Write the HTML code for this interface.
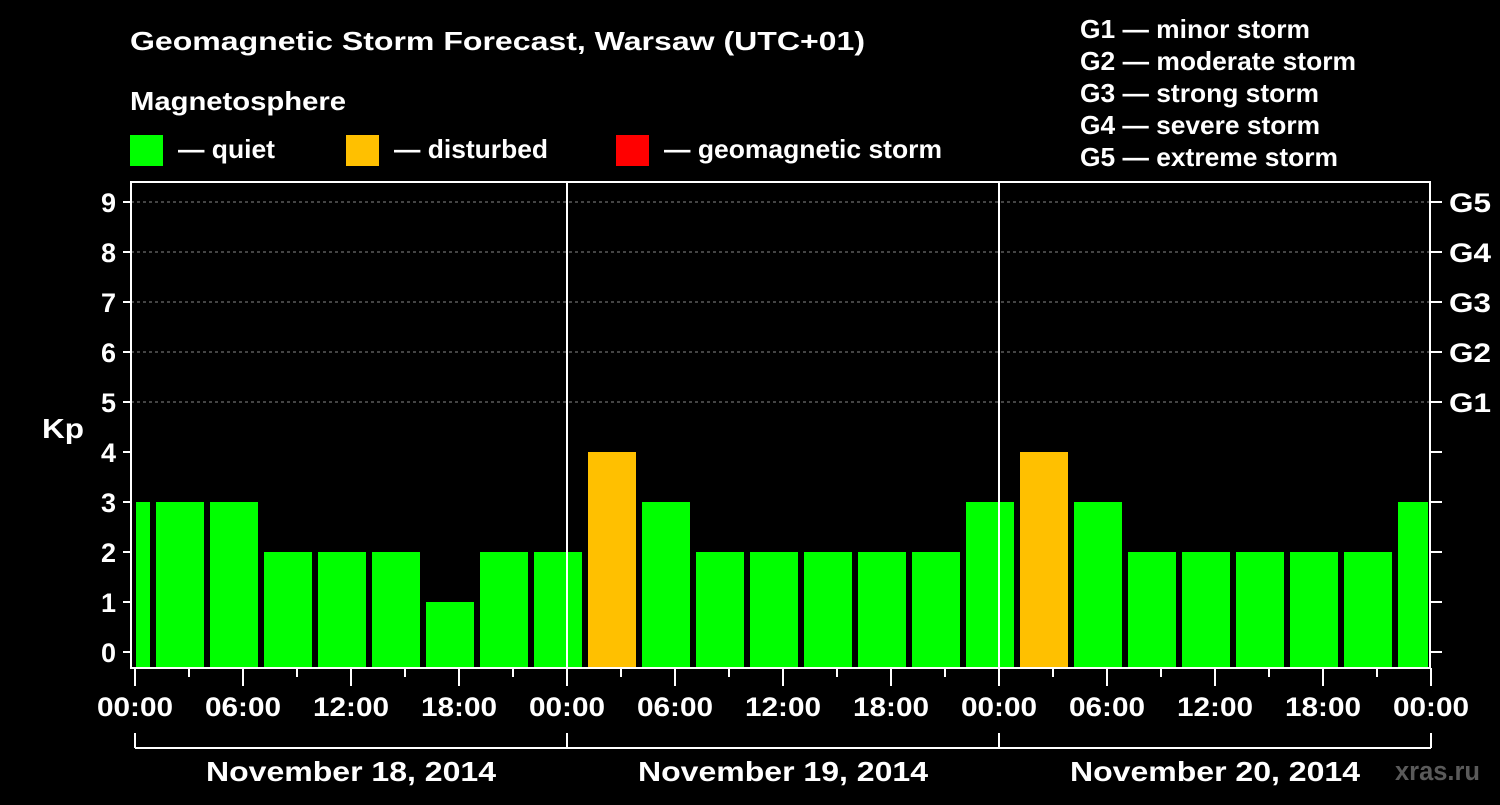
<!DOCTYPE html>
<html><head><meta charset="utf-8"><style>
body{margin:0;background:#000;width:1500px;height:800px;overflow:hidden}
text{font-family:"Liberation Sans",Arial,sans-serif;font-weight:bold;fill:#fff}
</style></head><body>
<svg id="chart" width="1500" height="800" xmlns="http://www.w3.org/2000/svg">
<rect width="1500" height="800" fill="#000"/>
<text x="130" y="50" font-size="26" textLength="735" lengthAdjust="spacingAndGlyphs">Geomagnetic Storm Forecast, Warsaw (UTC+01)</text>
<text x="130" y="110" font-size="26" textLength="216" lengthAdjust="spacingAndGlyphs">Magnetosphere</text>
<g><rect x="130" y="135" width="33" height="31" fill="#00ff00"/><text x="178" y="158" font-size="26" textLength="97" lengthAdjust="spacingAndGlyphs">— quiet</text></g>
<g><rect x="346" y="135" width="33" height="31" fill="#ffc000"/><text x="394" y="158" font-size="26" textLength="154" lengthAdjust="spacingAndGlyphs">— disturbed</text></g>
<g><rect x="616" y="135" width="33" height="31" fill="#ff0000"/><text x="664" y="158" font-size="26" textLength="278" lengthAdjust="spacingAndGlyphs">— geomagnetic storm</text></g>
<g font-size="26">
<text x="1080" y="38" textLength="230" lengthAdjust="spacingAndGlyphs">G1 — minor storm</text>
<text x="1080" y="70" textLength="276" lengthAdjust="spacingAndGlyphs">G2 — moderate storm</text>
<text x="1080" y="102" textLength="239" lengthAdjust="spacingAndGlyphs">G3 — strong storm</text>
<text x="1080" y="134" textLength="240" lengthAdjust="spacingAndGlyphs">G4 — severe storm</text>
<text x="1080" y="166" textLength="258" lengthAdjust="spacingAndGlyphs">G5 — extreme storm</text>
</g>
<g id="gridG"></g><g id="barsG"></g><g id="axesG"></g>
<text x="42" y="438" font-size="28" textLength="42" lengthAdjust="spacingAndGlyphs">Kp</text>
<text x="1395" y="780" font-size="27" style="fill:#5a5a5a" textLength="85" lengthAdjust="spacingAndGlyphs">xras.ru</text>
</svg>
<script>
const kpValues=[3,3,3,2,2,2,1,2,2,4,3,2,2,2,2,2,3,4,3,2,2,2,2,2,3];
const statusColors={quiet:"#00ff00",disturbed:"#ffc000",storm:"#ff0000"};
const dayLabels=["November 18, 2014","November 19, 2014","November 20, 2014"];
const hourLabels=["00:00","06:00","12:00","18:00"];
const gLabels=["G1","G2","G3","G4","G5"];
(function(){
const NS="http://www.w3.org/2000/svg";
const x0=135,pxH=18,yKp=v=>652-50*v,pL=131,pR=1430,pT=182,pB=668;
const X=h=>x0+h*pxH;
function mk(p,t,a){const e=document.createElementNS(NS,t);for(const k in a)e.setAttribute(k,a[k]);p.appendChild(e);return e;}
const gridG=document.getElementById('gridG'),barsG=document.getElementById('barsG'),axesG=document.getElementById('axesG');
for(let v=5;v<=9;v++){const l=mk(gridG,'line',{x1:pL,x2:pR,y1:yKp(v),y2:yKp(v),stroke:'#888','stroke-dasharray':'3,3'});

}
kpValues.forEach((v,i)=>{
 let hs=-2+i*3,he=hs+3;
 let xa=Math.max(X(hs)+3,pL+5),xb=Math.min(X(he)-3,pR-2);
 const c=v>=5?statusColors.storm:(v>=4?statusColors.disturbed:statusColors.quiet);
 const r=mk(barsG,'rect',{x:xa,y:yKp(v),width:xb-xa,height:pB-1-yKp(v),fill:c});
 
 
});
mk(axesG,'rect',{x:pL,y:pT,width:pR-pL,height:pB-pT,fill:'none',stroke:'#fff','stroke-width':2});
for(let d=1;d<3;d++)mk(axesG,'line',{x1:X(24*d),x2:X(24*d),y1:pT,y2:pB,stroke:'#fff','stroke-width':2});
for(let v=0;v<=9;v++){
 mk(axesG,'line',{x1:pL-8,x2:pL,y1:yKp(v),y2:yKp(v),stroke:'#fff','stroke-width':2});
 mk(axesG,'line',{x1:pR,x2:pR+12,y1:yKp(v),y2:yKp(v),stroke:'#fff','stroke-width':2});
 const t=mk(axesG,'text',{x:116,y:yKp(v)+10,'font-size':27,'text-anchor':'end'});t.textContent=v;
 
 
}
gLabels.forEach((g,i)=>{const t=mk(axesG,'text',{x:1449,y:yKp(5+i)+10,'font-size':27,textLength:42,lengthAdjust:'spacingAndGlyphs'});t.textContent=g;
 
 });
for(let h=0;h<=72;h+=3){
 mk(axesG,'line',{x1:X(h),x2:X(h),y1:pB,y2:h%6?677:686,stroke:'#fff','stroke-width':2});
 if(h%6===0){const t=mk(axesG,'text',{x:X(h)-38,y:716,'font-size':27,textLength:76,lengthAdjust:'spacingAndGlyphs'});t.textContent=hourLabels[(h/6)%4];
 
 }
}
mk(axesG,'line',{x1:X(0),x2:X(72),y1:748,y2:748,stroke:'#fff','stroke-width':2});
for(let d=0;d<=3;d++)mk(axesG,'line',{x1:X(24*d),x2:X(24*d),y1:733,y2:748,stroke:'#fff','stroke-width':2});
dayLabels.forEach((s,d)=>{const t=mk(axesG,'text',{x:X(24*d+12)-145,y:781,'font-size':28,textLength:290,lengthAdjust:'spacingAndGlyphs'});t.textContent=s;
 
 });
})();
</script>
</body></html>
